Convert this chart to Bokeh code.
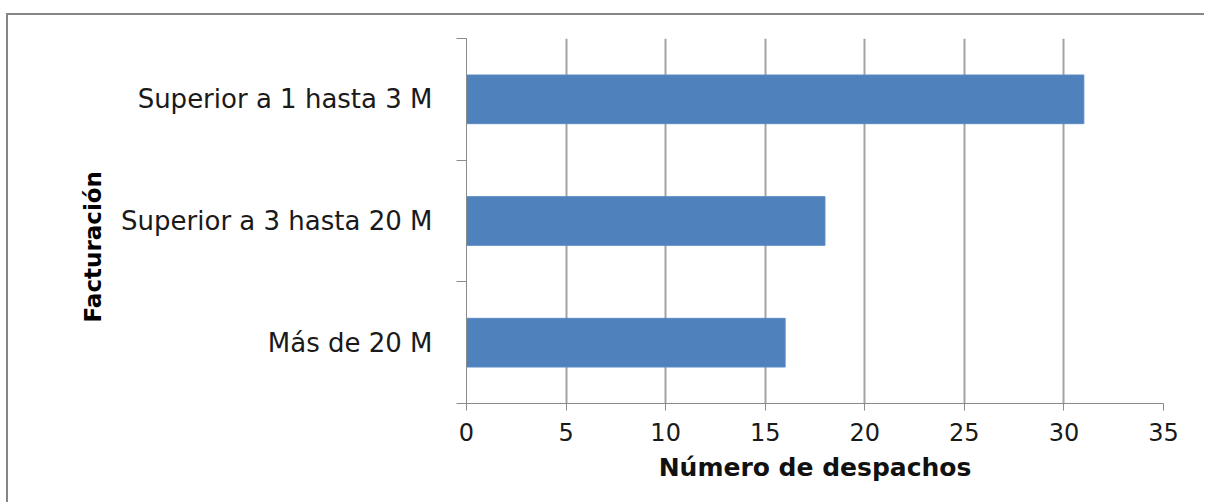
from bokeh.plotting import figure
from bokeh.models import ColumnDataSource, FixedTicker, Title
from bokeh.embed import file_html
from bokeh.resources import INLINE

# Número de despachos por tramo de facturación
categories = ["Más de 20 M", "Superior a 3 hasta 20 M", "Superior a 1 hasta 3 M"]
despachos = [16, 18, 31]
x_ticks = [0, 5, 10, 15, 20, 25, 30, 35]
x_title = "Número de despachos"
y_title = "Facturación"

centers = [i + 0.5 for i in range(len(categories))]
bounds = list(range(len(categories) + 1))
src = ColumnDataSource(dict(y=centers, right=despachos, cat=categories))

AXIS = "#8a8a8a"
GRID = "#a3a3a3"

p = figure(
    width=1198, height=489,
    x_range=(x_ticks[0], x_ticks[-1]), y_range=(bounds[0], bounds[-1]),
    output_backend="svg", toolbar_location=None,
    min_border_left=458, min_border_right=43,
    min_border_top=23, min_border_bottom=101,
    background_fill_color="white", border_fill_color="white",
    outline_line_color=None,
    styles={
        "margin-left": "6px", "margin-top": "13px",
        "border-left": "2px solid #868686", "border-top": "2px solid #868686",
    },
)

p.hbar(y="y", right="right", left=0, height=0.4, source=src,
       fill_color="#4f81bd", line_color="#5a8ac4", line_width=1)

# x axis
p.xaxis.ticker = FixedTicker(ticks=x_ticks)
p.xaxis.axis_line_color = AXIS
p.xaxis.major_tick_line_color = AXIS
p.xaxis.major_tick_out = 7
p.xaxis.major_tick_in = 0
p.xaxis.minor_tick_line_color = None
p.xaxis.major_label_text_font = "DejaVu Sans"
p.xaxis.major_label_text_font_size = "24px"
p.xaxis.major_label_text_color = "#1a1a1a"
p.xaxis.major_label_standoff = 12
p.xaxis.axis_label = x_title
p.xaxis.axis_label_text_font = "DejaVu Sans"
p.xaxis.axis_label_text_font_style = "bold"
p.xaxis.axis_label_text_font_size = "25px"
p.xaxis.axis_label_text_color = "#111111"
p.xaxis.axis_label_standoff = 9

# y axis: labels at category centres, tick marks on category boundaries
p.yaxis.ticker = FixedTicker(ticks=centers, minor_ticks=bounds)
p.yaxis.major_label_overrides = {c: lab for c, lab in zip(centers, categories)}
p.yaxis.axis_line_color = AXIS
p.yaxis.major_tick_line_color = None
p.yaxis.major_tick_out = 0
p.yaxis.major_tick_in = 0
p.yaxis.minor_tick_line_color = AXIS
p.yaxis.minor_tick_out = 10
p.yaxis.minor_tick_in = 0
p.yaxis.major_label_text_font = "DejaVu Sans"
p.yaxis.major_label_text_font_size = "26px"
p.yaxis.major_label_text_color = "#1a1a1a"
p.yaxis.major_label_standoff = 24

p.add_layout(Title(text=y_title, align="left", offset=81, standoff=26,
                   text_font="DejaVu Sans", text_font_style="bold",
                   text_font_size="23px", text_color="#000000"), "left")

p.xgrid.grid_line_color = GRID
p.xgrid.grid_line_width = 2
p.ygrid.grid_line_color = None

open("out.html", "w").write(file_html(p, INLINE))
